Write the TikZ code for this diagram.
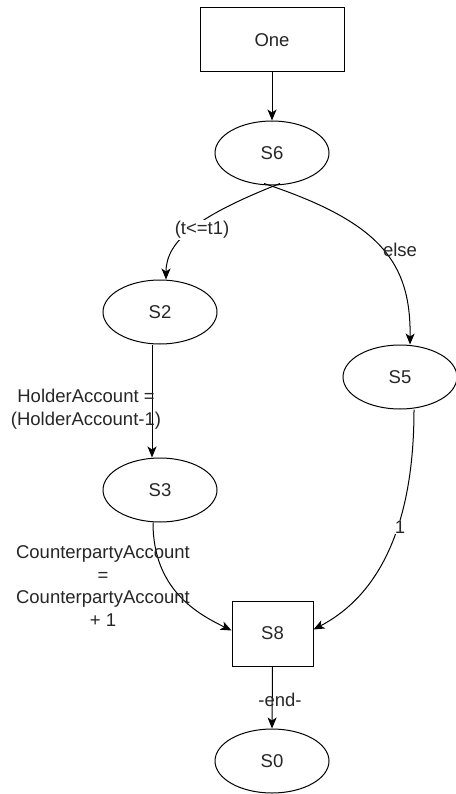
\documentclass[tikz,border=0pt]{standalone}
\usepackage{fontspec}
\setmainfont{Liberation Sans}
\usetikzlibrary{arrows.meta,shapes.geometric}
\begin{document}
\begin{tikzpicture}[x=1pt,y=-1pt,
  every node/.style={font=\fontsize{18.5}{22.6}\selectfont, text=black!85},
  state/.style={draw, ellipse, minimum width=114pt, minimum height=64pt, inner sep=0pt, line width=1pt},
  box/.style={draw, rectangle, line width=1pt, inner sep=0pt},
  edge/.style={draw, line width=1pt, -{Stealth[length=11pt,width=9pt,inset=3pt]}},
  lbl/.style={inner sep=1pt, align=center},
  lblw/.style={lbl, fill=white}]
\useasboundingbox (0,0) rectangle (455,794);

% states
\node[box, minimum width=144pt, minimum height=64pt] (one) at (272,40) {One};
\node[state] (s6) at (272,153) {S6};
\node[state] (s2) at (160,312) {S2};
\node[state] (s5) at (400,377) {S5};
\node[state] (s3) at (160,490) {S3};
\node[box, minimum width=81pt, minimum height=65pt] (s8) at (272.5,633.5) {S8};
\node[state] (s0) at (272,761) {S0};

% transitions
\draw[edge] (one.south) -- (s6.north);
\draw[edge] ([xshift=8pt,yshift=2pt]s6.south) .. controls (200,215) and (166,240) .. ([xshift=6pt]s2.north);
\draw[edge] ([xshift=-8pt,yshift=2pt]s6.south) .. controls (380,222) and (411,262) .. ([xshift=10pt]s5.north);
\draw[edge] ([xshift=-8pt]s2.south) -- ([xshift=-8pt]s3.north);
\draw[edge] ([xshift=-7pt]s3.south) .. controls (153,590) and (198,614) .. ([yshift=3pt]s8.west);
\draw[edge] ([xshift=14pt]s5.south) .. controls (414,540) and (370,600) .. ([yshift=4pt]s8.east);
\draw[edge] (s8.south) -- (s0.north);

% transition labels
\node[lblw] (l62) at (202,230) {(t<=t1)};
\node[lbl] (l65) at (400,250) {else};
\node[lbl] (l23) at (86,409) {HolderAccount =\\(HolderAccount-1)};
\node[lbl] (l38) at (103,586) {CounterpartyAccount\\=\\CounterpartyAccount\\+ 1};
\node[lblw] (l58) at (400,527) {1};
\node[lbl] (l80) at (280,700) {-end-};
\end{tikzpicture}
\end{document}
